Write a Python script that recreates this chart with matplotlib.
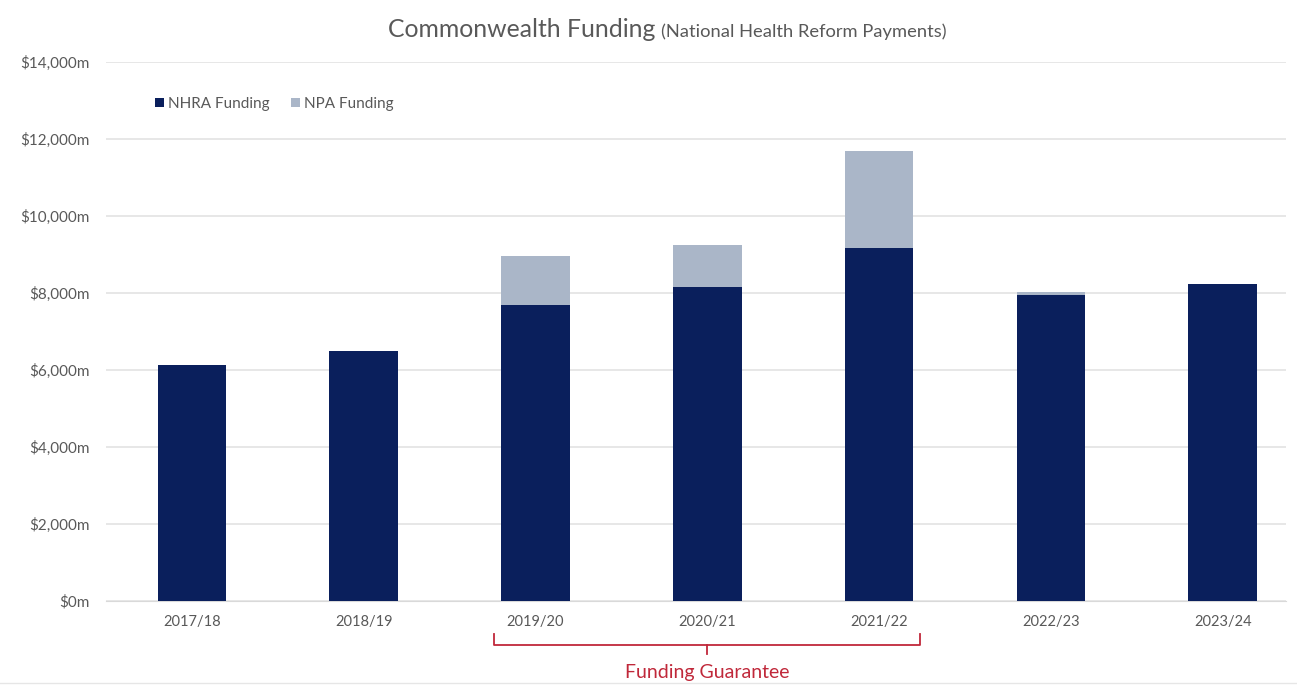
import numpy as np
import matplotlib
matplotlib.use("Agg")
import matplotlib.pyplot as plt
import matplotlib.transforms as mtransforms
from matplotlib.ticker import FuncFormatter

years = ["2017/18", "2018/19", "2019/20", "2020/21", "2021/22", "2022/23", "2023/24"]
nhra_funding = [6130, 6490, 7690, 8160, 9180, 7950, 8230]
npa_funding = [0, 0, 1270, 1090, 2510, 80, 0]

navy = "#0a1f5c"
light = "#aab6c8"
red = "#c0283a"

plt.rcParams['font.family'] = ['Lato', 'DejaVu Sans']

fig = plt.figure(figsize=(12.97, 6.86), dpi=100)
ax = fig.add_axes([0.0817, 0.124, 0.910, 0.7857])

x = np.arange(len(years))
ax.bar(x, nhra_funding, width=0.4, color=navy, label="NHRA Funding", zorder=3)
ax.bar(x, npa_funding, width=0.4, bottom=nhra_funding, color=light, label="NPA Funding", zorder=3)

ax.set_ylim(0, 14000)
ax.set_xlim(-0.5, 6.37)
ax.set_yticks(np.arange(0, 14001, 2000))
ax.yaxis.set_major_formatter(FuncFormatter(lambda v, p: f"${v:,.0f}m"))
ax.set_xticks(x)
ax.set_xticklabels(years)
ax.grid(axis='y', color="#e3e3e3", linewidth=1.2, zorder=0)
for s in ax.spines.values():
    s.set_visible(False)
ax.spines['bottom'].set_visible(True)
ax.spines['bottom'].set_color("#d9d9d9")
ax.tick_params(axis='y', length=0, colors="#595959", labelsize=11, pad=12)
ax.tick_params(axis='x', length=0, colors="#595959", labelsize=10.5, pad=10)

leg = ax.legend(loc='upper left', bbox_to_anchor=(0.03, 0.96), ncol=2, frameon=False,
                fontsize=11, handlelength=0.55, handleheight=0.55, handletextpad=0.3,
                columnspacing=1.4, labelcolor="#595959")

# title in two sizes
fig.text(655 / 1297, 0.946, "Commonwealth Funding", ha='right', va='baseline',
         fontsize=17.8, color="#595959")
fig.text(661 / 1297, 0.946, "(National Health Reform Payments)", ha='left', va='baseline',
         fontsize=13.2, color="#595959")

# funding guarantee bracket
trans = mtransforms.blended_transform_factory(ax.transData, ax.transAxes)
bx0, bx1, by = 1.76, 4.24, -0.082
ax.plot([bx0, bx0, bx1, bx1], [-0.061, by, by, -0.061], color=red, lw=1.3,
        transform=trans, clip_on=False, solid_joinstyle='round')
ax.plot([3, 3], [by, -0.098], color=red, lw=1.3, transform=trans, clip_on=False)
ax.text(3, -0.132, "Funding Guarantee", color=red, fontsize=14, ha='center', va='center',
        transform=trans)

# faint rule along the bottom edge
fig.add_artist(plt.Line2D([0, 1], [0.004, 0.004], color="#e6e6e6", lw=1,
                          transform=fig.transFigure))

fig.savefig("out.png", dpi=100)
